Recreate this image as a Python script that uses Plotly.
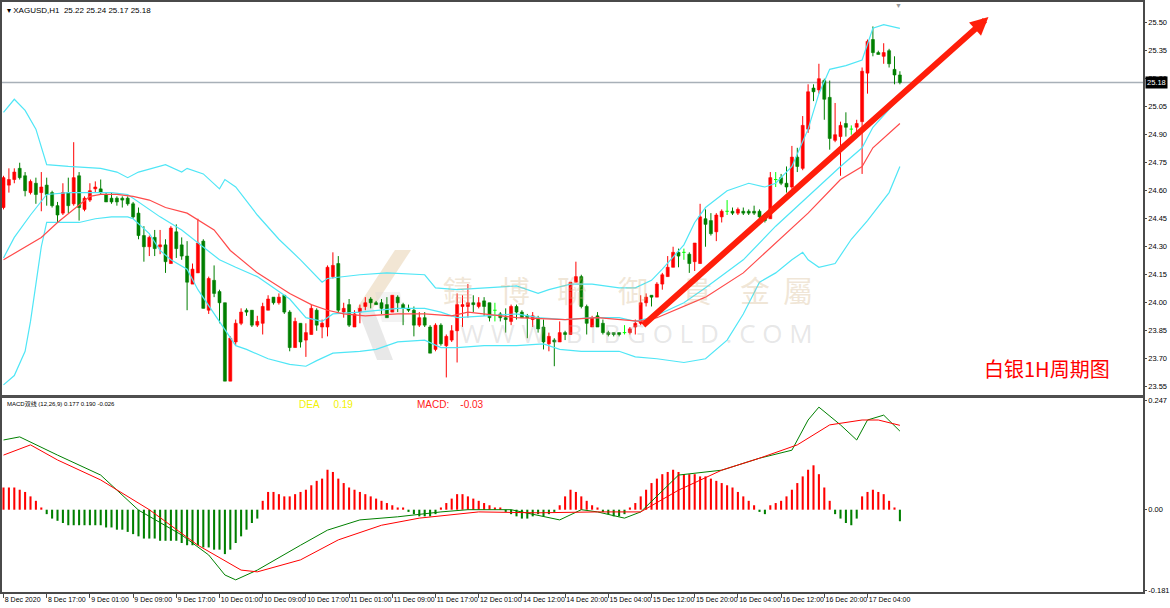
import plotly.graph_objects as go

# ---------------- DATA ----------------
tick_labels = ["8 Dec 2020", "8 Dec 17:00", "9 Dec 01:00", "9 Dec 09:00", "9 Dec 17:00",
               "10 Dec 01:00", "10 Dec 09:00", "10 Dec 17:00", "11 Dec 01:00", "11 Dec 09:00",
               "11 Dec 17:00", "12 Dec 01:00", "14 Dec 12:00", "14 Dec 20:00", "15 Dec 04:00",
               "15 Dec 12:00", "15 Dec 20:00", "16 Dec 04:00", "16 Dec 12:00", "16 Dec 20:00",
               "17 Dec 04:00"]
tick_bars = [0, 8, 16, 24, 32, 40, 48, 56, 64, 72, 80, 88, 96, 104, 112, 120, 128, 136, 144, 152, 160]

opens = [24.51, 24.63, 24.66, 24.72, 24.68, 24.59, 24.64, 24.59, 24.63, 24.59,
         24.52, 24.48, 24.59, 24.53, 24.68, 24.50, 24.55, 24.61, 24.61, 24.58,
         24.56, 24.56, 24.56, 24.56, 24.53, 24.48, 24.36, 24.30, 24.35, 24.30,
         24.31, 24.21, 24.38, 24.31, 24.25, 24.10, 24.16, 24.33, 23.96, 24.12,
         24.06, 24.00, 23.58, 23.79, 23.89, 23.96, 23.96, 23.88, 23.89, 23.96,
         24.03, 24.00, 24.04, 23.95, 23.76, 23.89, 23.80, 23.83, 23.96, 23.87,
         23.87, 24.14, 24.21, 23.95, 23.99, 23.87, 23.95, 23.98, 24.02, 24.00,
         24.00, 23.99, 23.95, 24.03, 23.99, 23.97, 23.96, 23.88, 23.92, 23.87,
         23.75, 23.88, 23.77, 23.80, 23.85, 23.98, 23.98, 24.00, 23.98, 24.01,
         24.00, 23.96, 23.94, 23.92, 23.90, 23.98, 23.95, 23.93, 23.91, 23.92,
         23.87, 23.78, 23.80, 23.79, 23.84, 23.83, 24.11, 24.14, 23.98, 23.87,
         23.93, 23.89, 23.84, 23.84, 23.84, 23.84, 23.84, 23.87, 23.89, 24.00,
         24.04, 24.03, 24.10, 24.14, 24.19, 24.27, 24.27, 24.26, 24.22, 24.21,
         24.45, 24.44, 24.38, 24.46, 24.49, 24.49, 24.48, 24.49, 24.49, 24.49,
         24.49, 24.46, 24.45, 24.66, 24.67, 24.64, 24.62, 24.78, 24.72, 24.93,
         25.15, 25.14, 25.19, 25.10, 24.87, 24.89, 24.96, 24.93, 24.94, 24.97,
         25.23, 25.41, 25.34, 25.32, 25.35, 25.25, 25.22]
highs = [24.68, 24.72, 24.72, 24.75, 24.70, 24.66, 24.67, 24.70, 24.67, 24.60,
         24.54, 24.64, 24.67, 24.86, 24.70, 24.57, 24.64, 24.65, 24.66, 24.59,
         24.59, 24.57, 24.57, 24.57, 24.54, 24.51, 24.41, 24.36, 24.39, 24.39,
         24.34, 24.41, 24.42, 24.35, 24.33, 24.21, 24.45, 24.34, 24.14, 24.20,
         24.07, 24.00, 23.82, 23.91, 23.97, 23.97, 23.96, 23.93, 24.00, 24.04,
         24.03, 24.05, 24.04, 23.96, 23.92, 23.89, 23.89, 23.99, 23.97, 23.91,
         24.20, 24.27, 24.25, 24.00, 24.02, 23.96, 23.99, 24.03, 24.03, 24.01,
         24.02, 24.03, 24.04, 24.04, 24.00, 23.99, 23.98, 23.95, 23.95, 23.88,
         23.89, 23.89, 23.83, 23.88, 24.05, 24.04, 24.10, 24.04, 24.03, 24.03,
         24.00, 24.00, 23.95, 23.97, 23.99, 23.99, 23.96, 23.94, 23.95, 23.93,
         23.91, 23.84, 23.81, 23.90, 23.85, 24.11, 24.22, 24.15, 23.99, 23.93,
         23.95, 23.91, 23.85, 23.84, 23.84, 23.88, 23.87, 23.91, 24.04, 24.05,
         24.04, 24.11, 24.16, 24.25, 24.30, 24.29, 24.29, 24.27, 24.32, 24.53,
         24.50, 24.48, 24.48, 24.50, 24.55, 24.51, 24.51, 24.51, 24.50, 24.52,
         24.50, 24.48, 24.70, 24.70, 24.69, 24.73, 24.84, 24.83, 25.00, 25.17,
         25.17, 25.28, 25.20, 25.19, 25.07, 24.97, 25.02, 24.95, 24.98, 25.26,
         25.41, 25.48, 25.35, 25.39, 25.36, 25.32, 25.24]
lows = [24.50, 24.59, 24.64, 24.66, 24.57, 24.58, 24.53, 24.49, 24.52, 24.51,
        24.43, 24.47, 24.48, 24.52, 24.44, 24.49, 24.54, 24.59, 24.58, 24.54,
        24.53, 24.52, 24.51, 24.52, 24.45, 24.34, 24.22, 24.25, 24.25, 24.26,
        24.16, 24.21, 24.24, 24.23, 23.96, 24.10, 24.16, 23.97, 23.94, 24.03,
        23.89, 23.58, 23.58, 23.77, 23.88, 23.93, 23.87, 23.87, 23.83, 23.96,
        23.99, 23.99, 23.94, 23.74, 23.76, 23.76, 23.71, 23.83, 23.85, 23.81,
        23.82, 24.13, 23.95, 23.92, 23.87, 23.87, 23.89, 23.96, 23.97, 23.99,
        23.94, 23.92, 23.95, 23.95, 23.88, 23.95, 23.82, 23.87, 23.87, 23.73,
        23.74, 23.77, 23.60, 23.79, 23.68, 23.87, 23.92, 23.95, 23.97, 23.93,
        23.90, 23.90, 23.90, 23.84, 23.88, 23.91, 23.92, 23.81, 23.87, 23.84,
        23.75, 23.74, 23.66, 23.79, 23.80, 23.83, 24.11, 23.97, 23.83, 23.87,
        23.87, 23.83, 23.82, 23.82, 23.82, 23.83, 23.83, 23.83, 23.88, 23.98,
        23.98, 24.03, 24.07, 24.14, 24.19, 24.19, 24.23, 24.16, 24.17, 24.21,
        24.30, 24.36, 24.33, 24.43, 24.47, 24.47, 24.47, 24.47, 24.47, 24.47,
        24.43, 24.43, 24.45, 24.62, 24.63, 24.59, 24.61, 24.70, 24.71, 24.91,
        25.08, 25.12, 24.98, 24.82, 24.86, 24.68, 24.89, 24.90, 24.91, 24.69,
        25.12, 25.32, 25.33, 25.28, 25.26, 25.17, 25.17]
closes = [24.67, 24.66, 24.70, 24.67, 24.60, 24.65, 24.58, 24.62, 24.58, 24.52,
          24.47, 24.59, 24.52, 24.67, 24.51, 24.56, 24.60, 24.62, 24.59, 24.54,
          24.54, 24.54, 24.55, 24.53, 24.46, 24.36, 24.30, 24.35, 24.29, 24.31,
          24.22, 24.40, 24.29, 24.25, 24.11, 24.18, 24.32, 23.97, 24.13, 24.05,
          24.00, 23.58, 23.81, 23.89, 23.95, 23.95, 23.88, 23.90, 23.98, 24.02,
          24.00, 24.03, 23.95, 23.76, 23.90, 23.79, 23.84, 23.97, 23.88, 23.89,
          24.19, 24.20, 23.96, 23.97, 23.88, 23.94, 23.97, 24.00, 24.00, 23.99,
          23.97, 23.92, 24.04, 24.00, 23.97, 23.96, 23.88, 23.92, 23.88, 23.73,
          23.88, 23.78, 23.82, 23.85, 23.99, 23.99, 24.00, 23.99, 24.00, 23.98,
          23.92, 23.96, 23.92, 23.91, 23.98, 23.95, 23.92, 23.92, 23.93, 23.86,
          23.79, 23.82, 23.79, 23.84, 23.83, 24.11, 24.14, 23.98, 23.89, 23.92,
          23.87, 23.84, 23.83, 23.83, 23.83, 23.84, 23.86, 23.89, 24.00, 24.03,
          24.03, 24.10, 24.15, 24.19, 24.27, 24.25, 24.27, 24.21, 24.32, 24.46,
          24.42, 24.37, 24.47, 24.49, 24.49, 24.48, 24.50, 24.48, 24.48, 24.48,
          24.46, 24.44, 24.67, 24.66, 24.64, 24.62, 24.78, 24.73, 24.95, 25.13,
          25.13, 25.20, 25.09, 24.88, 24.90, 24.95, 24.94, 24.93, 24.96, 25.24,
          25.40, 25.34, 25.33, 25.34, 25.28, 25.22, 25.18]

upper_bar = [0, 2, 4, 6, 8, 12, 18, 21, 23, 25, 30, 33, 34, 37, 40, 41, 43, 47, 51, 55,
             59, 60, 66, 71, 78, 80, 84, 89, 95, 99, 101, 105, 109, 114, 117, 120, 122, 126,
             128, 130, 134, 138, 141, 143, 146, 149, 151, 153, 156, 159, 160, 161, 163, 166]
upper_band = [25.02, 25.09, 25.03, 24.93, 24.74, 24.73, 24.72, 24.70, 24.67, 24.70, 24.74,
              24.70, 24.72, 24.69, 24.61, 24.66, 24.62, 24.47, 24.34, 24.23, 24.11, 24.13,
              24.15, 24.16, 24.15, 24.08, 24.07, 24.08, 24.09, 24.05, 24.07, 24.10, 24.10,
              24.08, 24.08, 24.12, 24.18, 24.31, 24.43, 24.51, 24.60, 24.64, 24.62, 24.64,
              24.73, 24.93, 25.12, 25.25, 25.27, 25.30, 25.39, 25.47, 25.49, 25.47]
mid_bar = [0, 2, 5, 8, 12, 16, 20, 23, 26, 29, 33, 36, 40, 43, 47, 53, 56, 59, 61, 66, 69,
           73, 78, 81, 84, 89, 95, 99, 104, 109, 114, 117, 120, 123, 126, 130, 137, 143,
           149, 155, 159, 161, 166]
mid_band = [24.24, 24.35, 24.47, 24.58, 24.59, 24.59, 24.59, 24.58, 24.52, 24.46, 24.39,
            24.32, 24.23, 24.19, 24.14, 24.02, 23.92, 23.90, 23.94, 23.95, 23.96, 23.97,
            23.97, 23.95, 23.92, 23.93, 23.94, 23.92, 23.91, 23.92, 23.92, 23.90, 23.92,
            23.96, 24.00, 24.08, 24.23, 24.41, 24.57, 24.73, 24.83, 24.94, 25.10]
lower_bar = [0, 2, 4, 5, 6, 7, 8, 10, 14, 17, 20, 23, 24, 27, 29, 31, 34, 36, 39, 41, 43,
             45, 49, 53, 56, 58, 61, 66, 69, 73, 78, 81, 84, 89, 95, 100, 103, 107, 114,
             117, 121, 126, 130, 134, 137, 140, 143, 146, 148, 149, 151, 154, 157, 160,
             164, 166]
lower_band = [23.56, 23.61, 23.74, 23.90, 24.10, 24.30, 24.43, 24.43, 24.43, 24.45, 24.46,
              24.46, 24.45, 24.37, 24.28, 24.23, 24.18, 24.07, 23.94, 23.85, 23.77, 23.75,
              23.70, 23.67, 23.66, 23.69, 23.73, 23.74, 23.75, 23.79, 23.80, 23.76, 23.76,
              23.77, 23.77, 23.78, 23.75, 23.74, 23.74, 23.71, 23.70, 23.68, 23.70, 23.80,
              23.94, 24.11, 24.16, 24.23, 24.27, 24.23, 24.19, 24.21, 24.34, 24.44, 24.59,
              24.73]
ma_bar = [0, 3, 7, 10, 14, 16, 18, 21, 24, 27, 30, 34, 39, 42, 47, 53, 57, 60, 63, 67, 73,
          78, 83, 86, 95, 104, 110, 118, 121, 126, 130, 137, 143, 149, 155, 159, 161, 166]
ma_line = [24.23, 24.28, 24.35, 24.43, 24.52, 24.57, 24.58, 24.58, 24.57, 24.55, 24.51,
           24.48, 24.39, 24.28, 24.16, 24.05, 23.99, 23.96, 23.94, 23.93, 23.94, 23.94,
           23.93, 23.95, 23.92, 23.91, 23.92, 23.90, 23.92, 23.98, 24.03, 24.16, 24.32,
           24.48, 24.66, 24.73, 24.83, 24.96]

macd_hist = [0.05, 0.05, 0.05, 0.045, 0.04, 0.03, 0.02, 0.005, -0.01, -0.02,
             -0.025, -0.03, -0.035, -0.035, -0.035, -0.035, -0.035, -0.035, -0.035, -0.04,
             -0.04, -0.045, -0.045, -0.05, -0.055, -0.06, -0.065, -0.065, -0.065, -0.07,
             -0.07, -0.07, -0.07, -0.075, -0.08, -0.08, -0.08, -0.085, -0.085, -0.09,
             -0.09, -0.10, -0.09, -0.075, -0.06, -0.045, -0.03, -0.02, 0.02, 0.04,
             0.04, 0.035, 0.03, 0.03, 0.035, 0.04, 0.045, 0.055, 0.065, 0.07,
             0.09, 0.085, 0.07, 0.06, 0.05, 0.045, 0.04, 0.035, 0.03, 0.025,
             0.02, 0.015, 0.01, 0.005, 0.005, -0.005, -0.01, -0.015, -0.015, -0.015,
             -0.01, 0.005, 0.015, 0.025, 0.035, 0.035, 0.03, 0.025, 0.02, 0.015,
             0.01, 0.005, 0.005, -0.005, -0.01, -0.015, -0.02, -0.02, -0.015, -0.01,
             -0.015, -0.01, -0.005, 0.01, 0.03, 0.045, 0.04, 0.03, 0.02, 0.01,
             0.005, -0.005, -0.01, -0.015, -0.015, -0.01, 0.005, 0.015, 0.03, 0.045,
             0.06, 0.07, 0.08, 0.085, 0.09, 0.085, 0.08, 0.08, 0.08, 0.075,
             0.075, 0.07, 0.065, 0.06, 0.055, 0.05, 0.04, 0.03, 0.02, 0.01,
             -0.005, -0.01, 0.01, 0.015, 0.02, 0.03, 0.045, 0.06, 0.075, 0.09,
             0.10, 0.08, 0.05, 0.02, -0.01, -0.02, -0.03, -0.035, -0.02, 0.03,
             0.04, 0.045, 0.04, 0.035, 0.02, 0.005, -0.026]
dif_bar = [0, 3, 10, 18, 25, 33, 38, 41, 43, 47, 55, 60, 66, 73, 81, 86, 94, 99, 103, 107,
           110, 115, 118, 125, 133, 140, 146, 149, 151, 155, 158, 160, 163, 166]
dif_line = [0.157, 0.164, 0.123, 0.078, -0.001, -0.057, -0.102, -0.147, -0.158, -0.136,
            -0.080, -0.046, -0.023, -0.016, -0.005, 0.0, 0.0, -0.012, -0.023, 0.0, -0.005,
            -0.019, -0.005, 0.078, 0.089, 0.116, 0.134, 0.202, 0.231, 0.191, 0.157, 0.202,
            0.213, 0.177]
dea_bar = [0, 5, 10, 18, 27, 36, 44, 47, 55, 62, 70, 77, 88, 99, 110, 118, 125, 133, 140,
           147, 153, 159, 162, 166]
dea_line = [0.123, 0.146, 0.112, 0.067, 0.0, -0.080, -0.136, -0.140, -0.113, -0.068, -0.035,
            -0.019, -0.005, -0.007, -0.005, -0.005, 0.044, 0.089, 0.116, 0.146, 0.191, 0.202,
            0.202, 0.190]

price_ticks = [25.50, 25.35, 25.20, 25.05, 24.90, 24.75, 24.60, 24.45, 24.30, 24.15,
               24.00, 23.85, 23.70, 23.55]
macd_ticks = [0.247, 0.0, -0.181]
macd_tick_text = ["0.247", "0.00", "-0.181"]
last_price = 25.18
arrow_bar = [118.2, 182.4]
arrow_price = [23.872, 25.53]
watermark_chars = ["鑄", "博", "聯", "御", "貴", "金", "屬"]

# ---------------- LAYOUT GEOMETRY ----------------
W, H = 1170, 608
ML, MR, MT, MB = 2, 27, 2, 16
PW, PH = W - ML - MR, H - MT - MB


def px(x):
    return (x - ML) / PW


def py(y):
    return (H - MB - y) / PH


UP, DOWN, DOJI = "#FF0000", "#007F00", "#00FF00"
CYAN, MA_RED = "#4FE6F6", "#FF4A4A"

fig = go.Figure()

n = len(opens)
bars = list(range(n))

# ---------------- candles ----------------
for kind, col in (("up", UP), ("down", DOWN), ("doji", DOJI)):
    if kind == "up":
        sel = [i for i in bars if closes[i] > opens[i]]
    elif kind == "down":
        sel = [i for i in bars if closes[i] < opens[i]]
    else:
        sel = [i for i in bars if closes[i] == opens[i]]
    wx, wy = [], []
    for i in sel:
        wx += [i, i, None]
        wy += [lows[i], highs[i], None]
    fig.add_trace(go.Scatter(x=wx, y=wy, mode="lines", line=dict(color=col, width=1),
                             hoverinfo="skip", xaxis="x", yaxis="y"))
    if kind == "doji":
        tx, ty = [], []
        for i in sel:
            tx += [i - 0.32, i + 0.32, None]
            ty += [opens[i], opens[i], None]
        fig.add_trace(go.Scatter(x=tx, y=ty, mode="lines", line=dict(color=col, width=1),
                                 hoverinfo="skip", xaxis="x", yaxis="y"))
    else:
        fig.add_trace(go.Bar(x=sel,
                             y=[abs(closes[i] - opens[i]) for i in sel],
                             base=[min(opens[i], closes[i]) for i in sel],
                             width=0.56,
                             marker=dict(color=col, line=dict(color=col, width=0.6)),
                             hoverinfo="skip", xaxis="x", yaxis="y"))

# ---------------- bands / MA ----------------
for xs, ys, col in ((upper_bar, upper_band, CYAN), (mid_bar, mid_band, CYAN),
                    (lower_bar, lower_band, CYAN), (ma_bar, ma_line, MA_RED)):
    fig.add_trace(go.Scatter(x=xs, y=ys, mode="lines", line=dict(color=col, width=1.2),
                             hoverinfo="skip", xaxis="x", yaxis="y"))

# ---------------- MACD ----------------
fig.add_trace(go.Bar(x=bars, y=macd_hist, width=0.38,
                     marker=dict(color=[UP if v >= 0 else DOWN for v in macd_hist], line=dict(width=0)),
                     hoverinfo="skip", xaxis="x2", yaxis="y2"))
fig.add_trace(go.Scatter(x=dif_bar, y=dif_line, mode="lines", line=dict(color="#008000", width=1),
                         hoverinfo="skip", xaxis="x2", yaxis="y2"))
fig.add_trace(go.Scatter(x=dea_bar, y=dea_line, mode="lines", line=dict(color="#FF0000", width=1),
                         hoverinfo="skip", xaxis="x2", yaxis="y2"))

# ---------------- axes ----------------
x_left = (ML - 3.5) / 5.4
x_right = (W - MR - 3.5) / 5.4
main_bottom = py(395)
macd_top = py(398)
p_top = 25.50 + (22.7 - MT) / 186.7
p_bot = 25.50 - (395 - 22.7) / 186.7
m_top = (509.7 - 398) / 444
m_bot = (509.7 - (H - MB)) / 444

AX = "#4A4A4A"
tickfont = dict(family="Liberation Sans, DejaVu Sans, sans-serif", size=7.5, color="#000000")
xtickfont = dict(family="Liberation Sans, DejaVu Sans, sans-serif", size=7, color="#000000")

fig.update_layout(
    width=W, height=H,
    margin=dict(l=ML, r=MR, t=MT, b=MB, pad=0, autoexpand=False),
    paper_bgcolor="#FFFFFF", plot_bgcolor="#FFFFFF",
    showlegend=False, barmode="overlay", hovermode=False,
    xaxis=dict(domain=[0, 1], anchor="y", range=[x_left, x_right], showticklabels=False,
               showgrid=False, zeroline=False, showline=True, mirror=True, automargin=False,
               linecolor=AX, linewidth=1.5, ticks=""),
    yaxis=dict(domain=[main_bottom, 1], anchor="x", range=[p_bot, p_top], side="right",
               tickvals=price_ticks, ticktext=["%.2f" % v for v in price_ticks],
               ticks="outside", ticklen=2, tickcolor=AX, tickfont=tickfont, automargin=False,
               showgrid=False, zeroline=False, showline=True, mirror=True,
               linecolor=AX, linewidth=1.5),
    xaxis2=dict(domain=[0, 1], anchor="y2", range=[x_left, x_right],
                tickvals=tick_bars, ticktext=tick_labels, ticks="outside", ticklen=4,
                tickangle=0, automargin=False,
                tickcolor=AX, tickfont=xtickfont, ticklabelposition="outside right",
                showgrid=False, zeroline=False, showline=True, mirror=True,
                linecolor=AX, linewidth=1.5),
    yaxis2=dict(domain=[0, macd_top], anchor="x2", range=[m_bot, m_top], side="right",
                tickvals=macd_ticks, ticktext=macd_tick_text, ticks="outside", ticklen=2,
                tickcolor=AX, tickfont=tickfont, automargin=False,
                showgrid=False, zeroline=False, showline=True, mirror=True,
                linecolor=AX, linewidth=1.5),
)

# current price line
fig.add_shape(type="line", xref="paper", yref="y", x0=0, x1=1, y0=last_price, y1=last_price,
              line=dict(color="#A8B0B8", width=1.5), layer="below")
# panel separator (thicker, like MT4)
fig.add_shape(type="line", xref="paper", yref="paper", x0=0, x1=1, y0=py(396.5), y1=py(396.5),
              line=dict(color="#505050", width=2.5))


# watermark logo shapes
def poly(pts):
    return "M " + " L ".join("%.4f,%.4f" % (px(a), py(b)) for a, b in pts) + " Z"


fig.add_shape(type="path", xref="paper", yref="paper", layer="below",
              path=poly([(395, 250), (411, 250), (373, 308), (357, 308)]),
              fillcolor="rgba(226,200,160,0.45)", line=dict(width=0))
fig.add_shape(type="path", xref="paper", yref="paper", layer="below",
              path=poly([(357, 308), (373, 308), (393, 360), (377, 360)]),
              fillcolor="rgba(205,205,205,0.45)", line=dict(width=0))
fig.add_shape(type="path", xref="paper", yref="paper", layer="below",
              path=poly([(375, 292), (400, 292), (405, 322), (382, 322)]),
              fillcolor="rgba(215,215,215,0.30)", line=dict(width=0))

ann = []
wm_x = [458, 515, 572, 633, 697, 755, 815]
for ch, xc in zip(watermark_chars, wm_x):
    ann.append(dict(xref="paper", yref="paper", x=px(xc), y=py(289), text=ch,
                    showarrow=False, font=dict(family="Noto Sans CJK TC", size=30,
                                               color="rgba(214,184,140,0.35)")))
ann.append(dict(xref="paper", yref="paper", x=px(636), y=py(333),
                text="W W W . B I B G O L D . C O M",
                showarrow=False, font=dict(family="Open Sans, sans-serif", size=26,
                                           color="rgba(175,175,175,0.30)")))
# trend arrow
ann.append(dict(xref="x", yref="y", axref="x", ayref="y",
                x=arrow_bar[1], y=arrow_price[1], ax=arrow_bar[0], ay=arrow_price[0],
                text="", showarrow=True, arrowhead=2, arrowsize=0.6, arrowwidth=6,
                arrowcolor="#FF1E0A", standoff=0, startstandoff=0))
# price label
ann.append(dict(xref="paper", yref="y", x=1.0, y=last_price, xanchor="left", yanchor="middle",
                text="25.18", showarrow=False, bgcolor="#000000", borderpad=1, xshift=2,
                font=dict(family="Liberation Sans, DejaVu Sans", size=7.5, color="#FFFFFF")))
# header
ann.append(dict(xref="paper", yref="paper", x=px(5), y=py(11), xanchor="left", yanchor="middle",
                text="▾ XAGUSD,H1  25.22 25.24 25.17 25.18", showarrow=False,
                font=dict(family="Liberation Sans, DejaVu Sans", size=8, color="#000000")))
ann.append(dict(xref="paper", yref="paper", x=px(898), y=py(5), xanchor="center", yanchor="middle",
                text="▼", showarrow=False, font=dict(size=7, color="#9A9A9A")))
# MACD header
ann.append(dict(xref="paper", yref="paper", x=px(5), y=py(404), xanchor="left", yanchor="middle",
                text="MACD双线 (12,26,9) 0.177 0.190 -0.026", showarrow=False,
                font=dict(family="Liberation Sans, Noto Sans CJK SC", size=6, color="#000000")))
ann.append(dict(xref="paper", yref="paper", x=px(297), y=py(404), xanchor="left", yanchor="middle",
                text="DEA&nbsp;&nbsp;&nbsp;&nbsp;&nbsp;0.19", showarrow=False,
                font=dict(family="Liberation Sans, DejaVu Sans", size=10, color="#F2F200")))
ann.append(dict(xref="paper", yref="paper", x=px(415), y=py(404), xanchor="left", yanchor="middle",
                text="MACD:&nbsp;&nbsp;&nbsp;&nbsp;-0.03", showarrow=False,
                font=dict(family="Liberation Sans, DejaVu Sans", size=10, color="#FF2020")))
# caption
ann.append(dict(xref="paper", yref="paper", x=px(1047), y=py(368), xanchor="center", yanchor="middle",
                text="白银1H周期图", showarrow=False,
                font=dict(family="Noto Sans CJK SC", size=20, color="#FF0000")))
fig.update_layout(annotations=ann)

fig.write_html("out.html", include_plotlyjs=True, config={"displayModeBar": False})
